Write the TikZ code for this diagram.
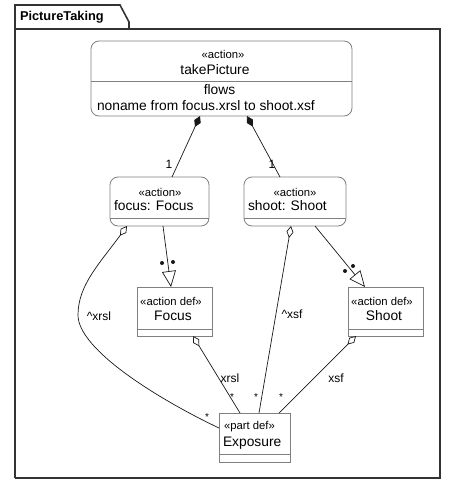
\documentclass[tikz,border=0pt]{standalone}
\usepackage{fontspec}
\setmainfont{Liberation Sans}
\usetikzlibrary{arrows.meta}
\definecolor{boxgray}{HTML}{808080}
\definecolor{framegray}{HTML}{333333}
\definecolor{linegray}{HTML}{181818}
\begin{document}
\begin{tikzpicture}[x=1pt,y=-1pt,
  every node/.style={inner sep=0pt,outer sep=0pt},
  actbox/.style={draw=boxgray,line width=0.8pt,fill=white,rounded corners=8pt,anchor=north west},
  defbox/.style={draw=boxgray,line width=0.8pt,fill=white,anchor=north west},
  divider/.style={draw=boxgray,line width=0.8pt},
  ster/.style={font=\fontsize{11.3}{13}\selectfont},
  nm/.style={font=\fontsize{13.8}{16}\selectfont},
  lbl/.style={font=\fontsize{12}{14}\selectfont},
  star/.style={font=\fontsize{10}{12}\selectfont},
  conn/.style={draw=linegray,line width=0.7pt},
  comp/.style={conn,{Diamond[length=12pt,width=7pt,fill=linegray]}-},
  agg/.style={conn,{Diamond[open,length=12pt,width=7pt,fill=white]}-},
  gen/.style={conn,-{Triangle[open,length=16pt,width=14pt,fill=white]}},
  dotmark/.style={fill=linegray}
]
\useasboundingbox (0,0) rectangle (456,486);
% frame
\draw[framegray,line width=1.6pt] (15,478) -- (15,5) -- (120,5) -- (129,22) -- (129,29);
\draw[framegray,line width=1.6pt] (15,29) -- (440,29) -- (440,478) -- (15,478);
\node[anchor=west,font=\bfseries\fontsize{12.8}{14}\selectfont] (title) at (20,17) {PictureTaking};

% takePicture
\node[actbox,minimum width=261pt,minimum height=75pt] (tp) at (91,41) {};
\draw[divider] (tp.west |- 0,81) -- (tp.east |- 0,81);
\node[ster] (tpst) at (223,54) {«action»};
\node[nm] (tpnm) at (215,70) {takePicture};
\node[nm] (tpfl) at (219.5,90) {flows};
\node[nm,anchor=west] (tpfl2) at (97,106) {noname from focus.xrsl to shoot.xsf};

% focus usage
\node[actbox,minimum width=99pt,minimum height=49pt] (fu) at (110,177) {};
\draw[divider] (fu.west |- 0,218) -- (fu.east |- 0,218);
\node[ster] (fust) at (160,192) {«action»};
\node[nm,anchor=west] (funm) at (114,206) {focus: Focus};

% shoot usage
\node[actbox,minimum width=102pt,minimum height=49pt] (su) at (244,177) {};
\draw[divider] (su.west |- 0,218) -- (su.east |- 0,218);
\node[ster] (sust) at (295,192) {«action»};
\node[nm,anchor=west] (sunm) at (248,206) {shoot: Shoot};

% Focus def
\node[defbox,minimum width=75pt,minimum height=49pt] (fd) at (137,287) {};
\draw[divider] (fd.west |- 0,329) -- (fd.east |- 0,329);
\node[ster] (fdst) at (171,301) {«action def»};
\node[nm] (fdnm) at (173,316) {Focus};

% Shoot def
\node[defbox,minimum width=75pt,minimum height=49pt] (sd) at (348,287) {};
\draw[divider] (sd.west |- 0,329) -- (sd.east |- 0,329);
\node[ster] (sdst) at (382,301) {«action def»};
\node[nm] (sdnm) at (384,316) {Shoot};

% Exposure
\node[defbox,minimum width=71pt,minimum height=49pt] (ex) at (219,413) {};
\draw[divider] (ex.west |- 0,454) -- (ex.east |- 0,454);
\node[ster,anchor=west] (exst) at (224,427) {«part def»};
\node[nm,anchor=west] (exnm) at (223,443) {Exposure};

% compositions
\draw[comp] (tp.south -| 200,0) -- (fu.north -| 172,0);
\draw[comp] (tp.south -| 247,0) -- (su.north -| 280,0);
\node[lbl] (one1) at (169,164) {1};
\node[lbl] (one2) at (272,164) {1};

% typing
\draw[gen] (fu.south -| 163,0) -- (fd.north -| 171,0);
\fill[dotmark] (162,263) circle (2pt);
\fill[dotmark] (173,262) circle (2pt);
\draw[gen] (su.south -| 315,0) -- (sd.north -| 365,0);
\fill[dotmark] (345,271) circle (2pt);
\fill[dotmark] (353,266) circle (2pt);

% aggregations
\coordinate (mid) at (78,315);
\draw[agg] (fu.south -| 127,0) .. controls (100,263) and (78,285) .. (mid)
  .. controls (78,350) and (160,400) .. (ex.west |- 0,428);
\draw[agg] (su.south -| 291,0) -- (ex.north -| 259,0);
\draw[agg] (fd.south -| 193,0) -- (ex.north -| 240,0);
\draw[agg] (sd.south -| 356,0) -- (ex.north -| 279,0);

\node[lbl] (l1) at (99,316) {\textasciicircum xrsl};
\node[lbl] (l2) at (292,314) {\textasciicircum xsf};
\node[lbl] (l3) at (230,378) {xrsl};
\node[lbl] (l4) at (336,378) {xsf};
\node[star] (s1) at (232,397) {*};
\node[star] (s2) at (256,397) {*};
\node[star] (s3) at (281,397) {*};
\node[star] (s4) at (207,417) {*};
\end{tikzpicture}
\end{document}
